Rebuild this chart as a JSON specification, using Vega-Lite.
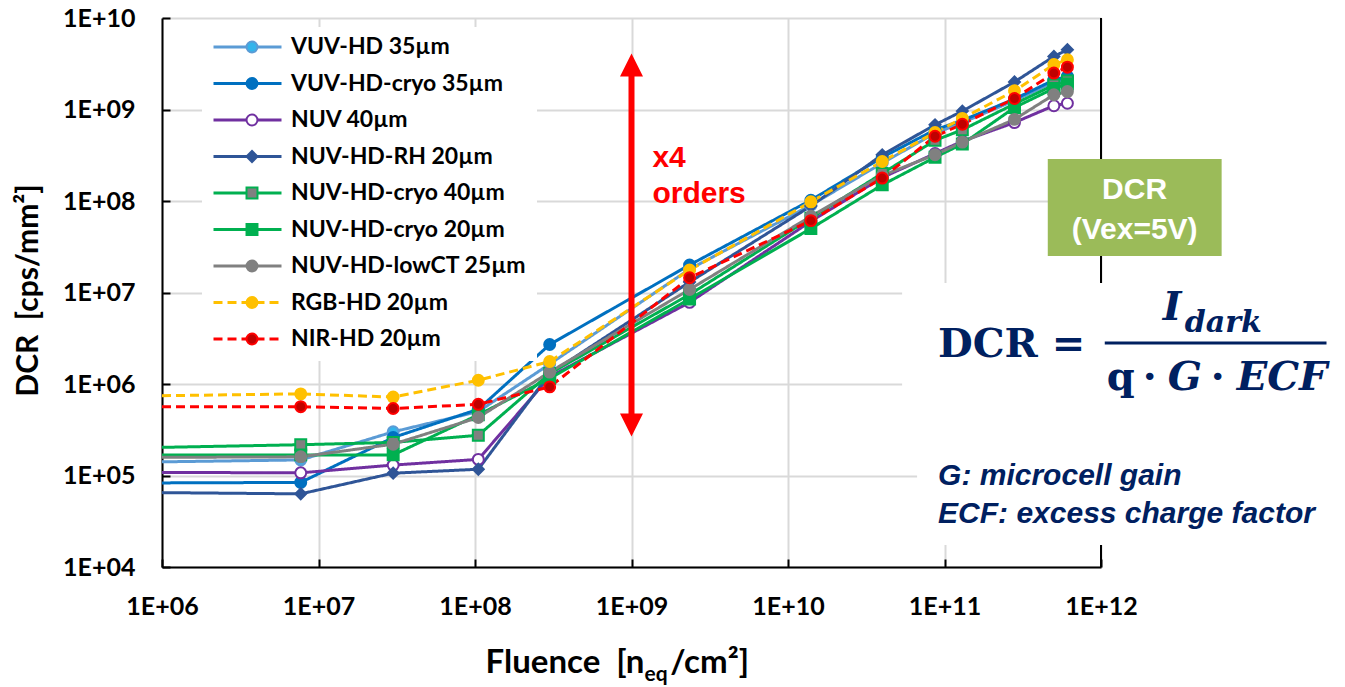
{
  "$schema": "https://vega.github.io/schema/vega-lite/v6.json",
  "width": 939,
  "height": 549,
  "autosize": "none",
  "padding": {"left": 162, "top": 18, "right": 244, "bottom": 120},
  "background": "white",
  "config": {"view": {"stroke": null}},
  "datasets": {
    "dcr": [
      {"series": "VUV-HD 35µm", "fluence": 1e6, "dcr": 1.41e5},
      {"series": "VUV-HD 35µm", "fluence": 7.7e6, "dcr": 1.48e5},
      {"series": "VUV-HD 35µm", "fluence": 3.0e7, "dcr": 3.0e5},
      {"series": "VUV-HD 35µm", "fluence": 1.05e8, "dcr": 5.0e5},
      {"series": "VUV-HD 35µm", "fluence": 3.0e8, "dcr": 1.65e6},
      {"series": "VUV-HD 35µm", "fluence": 2.35e9, "dcr": 1.8e7},
      {"series": "VUV-HD 35µm", "fluence": 1.4e10, "dcr": 9.0e7},
      {"series": "VUV-HD 35µm", "fluence": 4.0e10, "dcr": 2.6e8},
      {"series": "VUV-HD 35µm", "fluence": 8.7e10, "dcr": 5.5e8},
      {"series": "VUV-HD 35µm", "fluence": 1.3e11, "dcr": 7.2e8},
      {"series": "VUV-HD 35µm", "fluence": 2.8e11, "dcr": 1.25e9},
      {"series": "VUV-HD 35µm", "fluence": 5.0e11, "dcr": 2.0e9},
      {"series": "VUV-HD 35µm", "fluence": 6.1e11, "dcr": 2.2e9},
      {"series": "VUV-HD-cryo 35µm", "fluence": 1e6, "dcr": 8.3e4},
      {"series": "VUV-HD-cryo 35µm", "fluence": 7.7e6, "dcr": 8.4e4},
      {"series": "VUV-HD-cryo 35µm", "fluence": 3.0e7, "dcr": 2.6e5},
      {"series": "VUV-HD-cryo 35µm", "fluence": 1.05e8, "dcr": 5.3e5},
      {"series": "VUV-HD-cryo 35µm", "fluence": 3.0e8, "dcr": 2.7e6},
      {"series": "VUV-HD-cryo 35µm", "fluence": 2.35e9, "dcr": 2.0e7},
      {"series": "VUV-HD-cryo 35µm", "fluence": 1.4e10, "dcr": 1.02e8},
      {"series": "VUV-HD-cryo 35µm", "fluence": 4.0e10, "dcr": 3.0e8},
      {"series": "VUV-HD-cryo 35µm", "fluence": 8.7e10, "dcr": 6.0e8},
      {"series": "VUV-HD-cryo 35µm", "fluence": 1.3e11, "dcr": 7.6e8},
      {"series": "VUV-HD-cryo 35µm", "fluence": 2.8e11, "dcr": 1.3e9},
      {"series": "VUV-HD-cryo 35µm", "fluence": 5.0e11, "dcr": 2.1e9},
      {"series": "VUV-HD-cryo 35µm", "fluence": 6.1e11, "dcr": 2.3e9},
      {"series": "NUV 40µm", "fluence": 1e6, "dcr": 1.08e5},
      {"series": "NUV 40µm", "fluence": 7.7e6, "dcr": 1.07e5},
      {"series": "NUV 40µm", "fluence": 3.0e7, "dcr": 1.3e5},
      {"series": "NUV 40µm", "fluence": 1.05e8, "dcr": 1.5e5},
      {"series": "NUV 40µm", "fluence": 3.0e8, "dcr": 1.2e6},
      {"series": "NUV 40µm", "fluence": 2.35e9, "dcr": 7.8e6},
      {"series": "NUV 40µm", "fluence": 1.4e10, "dcr": 6.0e7},
      {"series": "NUV 40µm", "fluence": 4.0e10, "dcr": 1.8e8},
      {"series": "NUV 40µm", "fluence": 8.7e10, "dcr": 3.3e8},
      {"series": "NUV 40µm", "fluence": 1.3e11, "dcr": 4.5e8},
      {"series": "NUV 40µm", "fluence": 2.8e11, "dcr": 7.2e8},
      {"series": "NUV 40µm", "fluence": 5.0e11, "dcr": 1.1e9},
      {"series": "NUV 40µm", "fluence": 6.1e11, "dcr": 1.17e9},
      {"series": "NUV-HD-RH 20µm", "fluence": 1e6, "dcr": 6.5e4},
      {"series": "NUV-HD-RH 20µm", "fluence": 7.7e6, "dcr": 6.3e4},
      {"series": "NUV-HD-RH 20µm", "fluence": 3.0e7, "dcr": 1.06e5},
      {"series": "NUV-HD-RH 20µm", "fluence": 1.05e8, "dcr": 1.17e5},
      {"series": "NUV-HD-RH 20µm", "fluence": 3.0e8, "dcr": 1.3e6},
      {"series": "NUV-HD-RH 20µm", "fluence": 2.35e9, "dcr": 1.3e7},
      {"series": "NUV-HD-RH 20µm", "fluence": 1.4e10, "dcr": 8.8e7},
      {"series": "NUV-HD-RH 20µm", "fluence": 4.0e10, "dcr": 3.2e8},
      {"series": "NUV-HD-RH 20µm", "fluence": 8.7e10, "dcr": 6.8e8},
      {"series": "NUV-HD-RH 20µm", "fluence": 1.3e11, "dcr": 9.6e8},
      {"series": "NUV-HD-RH 20µm", "fluence": 2.8e11, "dcr": 2.0e9},
      {"series": "NUV-HD-RH 20µm", "fluence": 5.0e11, "dcr": 3.8e9},
      {"series": "NUV-HD-RH 20µm", "fluence": 6.1e11, "dcr": 4.5e9},
      {"series": "NUV-HD-cryo 40µm", "fluence": 1e6, "dcr": 2.03e5},
      {"series": "NUV-HD-cryo 40µm", "fluence": 7.7e6, "dcr": 2.17e5},
      {"series": "NUV-HD-cryo 40µm", "fluence": 3.0e7, "dcr": 2.3e5},
      {"series": "NUV-HD-cryo 40µm", "fluence": 1.05e8, "dcr": 2.75e5},
      {"series": "NUV-HD-cryo 40µm", "fluence": 3.0e8, "dcr": 1.3e6},
      {"series": "NUV-HD-cryo 40µm", "fluence": 2.35e9, "dcr": 9.5e6},
      {"series": "NUV-HD-cryo 40µm", "fluence": 1.4e10, "dcr": 6.5e7},
      {"series": "NUV-HD-cryo 40µm", "fluence": 4.0e10, "dcr": 2.0e8},
      {"series": "NUV-HD-cryo 40µm", "fluence": 8.7e10, "dcr": 4.6e8},
      {"series": "NUV-HD-cryo 40µm", "fluence": 1.3e11, "dcr": 6.0e8},
      {"series": "NUV-HD-cryo 40µm", "fluence": 2.8e11, "dcr": 1.15e9},
      {"series": "NUV-HD-cryo 40µm", "fluence": 5.0e11, "dcr": 1.85e9},
      {"series": "NUV-HD-cryo 40µm", "fluence": 6.1e11, "dcr": 2.05e9},
      {"series": "NUV-HD-cryo 20µm", "fluence": 1e6, "dcr": 1.68e5},
      {"series": "NUV-HD-cryo 20µm", "fluence": 7.7e6, "dcr": 1.68e5},
      {"series": "NUV-HD-cryo 20µm", "fluence": 3.0e7, "dcr": 1.68e5},
      {"series": "NUV-HD-cryo 20µm", "fluence": 1.05e8, "dcr": 4.6e5},
      {"series": "NUV-HD-cryo 20µm", "fluence": 3.0e8, "dcr": 1.15e6},
      {"series": "NUV-HD-cryo 20µm", "fluence": 2.35e9, "dcr": 8.5e6},
      {"series": "NUV-HD-cryo 20µm", "fluence": 1.4e10, "dcr": 5.0e7},
      {"series": "NUV-HD-cryo 20µm", "fluence": 4.0e10, "dcr": 1.5e8},
      {"series": "NUV-HD-cryo 20µm", "fluence": 8.7e10, "dcr": 3.0e8},
      {"series": "NUV-HD-cryo 20µm", "fluence": 1.3e11, "dcr": 4.2e8},
      {"series": "NUV-HD-cryo 20µm", "fluence": 2.8e11, "dcr": 1.05e9},
      {"series": "NUV-HD-cryo 20µm", "fluence": 5.0e11, "dcr": 1.7e9},
      {"series": "NUV-HD-cryo 20µm", "fluence": 6.1e11, "dcr": 1.9e9},
      {"series": "NUV-HD-lowCT 25µm", "fluence": 1e6, "dcr": 1.58e5},
      {"series": "NUV-HD-lowCT 25µm", "fluence": 7.7e6, "dcr": 1.6e5},
      {"series": "NUV-HD-lowCT 25µm", "fluence": 3.0e7, "dcr": 2.2e5},
      {"series": "NUV-HD-lowCT 25µm", "fluence": 1.05e8, "dcr": 4.3e5},
      {"series": "NUV-HD-lowCT 25µm", "fluence": 3.0e8, "dcr": 1.35e6},
      {"series": "NUV-HD-lowCT 25µm", "fluence": 2.35e9, "dcr": 1.08e7},
      {"series": "NUV-HD-lowCT 25µm", "fluence": 1.4e10, "dcr": 6.8e7},
      {"series": "NUV-HD-lowCT 25µm", "fluence": 4.0e10, "dcr": 1.9e8},
      {"series": "NUV-HD-lowCT 25µm", "fluence": 8.7e10, "dcr": 3.2e8},
      {"series": "NUV-HD-lowCT 25µm", "fluence": 1.3e11, "dcr": 4.4e8},
      {"series": "NUV-HD-lowCT 25µm", "fluence": 2.8e11, "dcr": 7.8e8},
      {"series": "NUV-HD-lowCT 25µm", "fluence": 5.0e11, "dcr": 1.45e9},
      {"series": "NUV-HD-lowCT 25µm", "fluence": 6.1e11, "dcr": 1.57e9},
      {"series": "RGB-HD 20µm", "fluence": 1e6, "dcr": 7.45e5},
      {"series": "RGB-HD 20µm", "fluence": 7.7e6, "dcr": 7.8e5},
      {"series": "RGB-HD 20µm", "fluence": 3.0e7, "dcr": 7.2e5},
      {"series": "RGB-HD 20µm", "fluence": 1.05e8, "dcr": 1.1e6},
      {"series": "RGB-HD 20µm", "fluence": 3.0e8, "dcr": 1.76e6},
      {"series": "RGB-HD 20µm", "fluence": 2.35e9, "dcr": 1.76e7},
      {"series": "RGB-HD 20µm", "fluence": 1.4e10, "dcr": 9.8e7},
      {"series": "RGB-HD 20µm", "fluence": 4.0e10, "dcr": 2.7e8},
      {"series": "RGB-HD 20µm", "fluence": 8.7e10, "dcr": 5.6e8},
      {"series": "RGB-HD 20µm", "fluence": 1.3e11, "dcr": 8.0e8},
      {"series": "RGB-HD 20µm", "fluence": 2.8e11, "dcr": 1.6e9},
      {"series": "RGB-HD 20µm", "fluence": 5.0e11, "dcr": 3.1e9},
      {"series": "RGB-HD 20µm", "fluence": 6.1e11, "dcr": 3.5e9},
      {"series": "NIR-HD 20µm", "fluence": 1e6, "dcr": 5.65e5},
      {"series": "NIR-HD 20µm", "fluence": 7.7e6, "dcr": 5.65e5},
      {"series": "NIR-HD 20µm", "fluence": 3.0e7, "dcr": 5.4e5},
      {"series": "NIR-HD 20µm", "fluence": 1.05e8, "dcr": 6.0e5},
      {"series": "NIR-HD 20µm", "fluence": 3.0e8, "dcr": 9.3e5},
      {"series": "NIR-HD 20µm", "fluence": 2.35e9, "dcr": 1.45e7},
      {"series": "NIR-HD 20µm", "fluence": 1.4e10, "dcr": 6.1e7},
      {"series": "NIR-HD 20µm", "fluence": 4.0e10, "dcr": 1.78e8},
      {"series": "NIR-HD 20µm", "fluence": 8.7e10, "dcr": 5.1e8},
      {"series": "NIR-HD 20µm", "fluence": 1.3e11, "dcr": 6.9e8},
      {"series": "NIR-HD 20µm", "fluence": 2.8e11, "dcr": 1.32e9},
      {"series": "NIR-HD 20µm", "fluence": 5.0e11, "dcr": 2.5e9},
      {"series": "NIR-HD 20µm", "fluence": 6.1e11, "dcr": 2.9e9}
    ]
  },
  "encoding": {
    "x": {
      "field": "fluence", "type": "quantitative",
      "scale": {"type": "log", "domain": [1e6, 1e12], "nice": false},
      "axis": {
        "values": [1e6, 1e7, 1e8, 1e9, 1e10, 1e11, 1e12],
        "labelExpr": "'1E+' + (datum.value < 1e10 ? '0' : '') + format(log(datum.value)/LN10, '.0f')",
        "title": null, "grid": true, "gridColor": "#D9D9D9", "gridWidth": 2,
        "domainColor": "black", "domainWidth": 2, "tickColor": "black", "tickWidth": 2, "tickSize": -8,
        "labelPadding": 35, "labelFont": "Lato", "labelFontSize": 25, "labelFontWeight": "bold",
        "labelColor": "black", "labelFlush": false, "labelOverlap": false
      }
    },
    "y": {
      "field": "dcr", "type": "quantitative",
      "scale": {"type": "log", "domain": [1e4, 1e10], "nice": false},
      "axis": {
        "values": [1e4, 1e5, 1e6, 1e7, 1e8, 1e9, 1e10],
        "labelExpr": "'1E+' + (datum.value < 1e10 ? '0' : '') + format(log(datum.value)/LN10, '.0f')",
        "title": "DCR \u00a0[cps/mm²]", "titleFont": "Lato", "titleFontSize": 30, "titleFontWeight": "bold",
        "titleColor": "black", "titleX": -134, "titleY": 272, "titleAngle": -90, "titleAlign": "center", "titleBaseline": "middle",
        "grid": true, "gridColor": "#D9D9D9", "gridWidth": 2,
        "domainColor": "black", "domainWidth": 2, "tickColor": "black", "tickWidth": 2, "tickSize": -8,
        "labelPadding": 35, "labelFont": "Lato", "labelFontSize": 25, "labelFontWeight": "bold",
        "labelColor": "black", "labelFlush": false, "labelOverlap": false
      }
    }
  },
  "resolve": {
    "scale": {"stroke": "independent", "fill": "independent", "shape": "independent", "strokeDash": "independent"},
    "legend": {"stroke": "independent", "fill": "independent", "shape": "independent", "strokeDash": "independent"}
  },
  "layer": [
    {
      "data": {"values": [{"fluence": 1e12, "dcr": 1e4, "dcr2": 1e10}]},
      "mark": {"type": "rule", "color": "black", "strokeWidth": 2},
      "encoding": {"y2": {"field": "dcr2"}}
    },
    {
      "data": {"name": "dcr"},
      "mark": {"type": "line", "strokeWidth": 3},
      "encoding": {
        "stroke": {
          "field": "series", "type": "nominal",
          "scale": {
            "domain": ["VUV-HD 35µm", "VUV-HD-cryo 35µm", "NUV 40µm", "NUV-HD-RH 20µm", "NUV-HD-cryo 40µm", "NUV-HD-cryo 20µm", "NUV-HD-lowCT 25µm", "RGB-HD 20µm", "NIR-HD 20µm"],
            "range": ["#5B9BD5", "#0070C0", "#7030A0", "#2F5597", "#00B050", "#00B050", "#808080", "#FFC000", "#FF0000"]
          },
          "legend": {
            "orient": "none", "legendX": 40, "legendY": 9, "title": null, "padding": 10, "fillColor": "white",
            "symbolType": "stroke", "symbolSize": 4624, "symbolStrokeWidth": 3, "clipHeight": 20, "rowPadding": 13.5,
            "labelFont": "Lato", "labelFontSize": 23, "labelFontWeight": "bold", "labelColor": "black", "labelOffset": 8, "labelLimit": 400
          }
        },
        "strokeDash": {
          "field": "series", "type": "nominal",
          "scale": {
            "domain": ["VUV-HD 35µm", "VUV-HD-cryo 35µm", "NUV 40µm", "NUV-HD-RH 20µm", "NUV-HD-cryo 40µm", "NUV-HD-cryo 20µm", "NUV-HD-lowCT 25µm", "RGB-HD 20µm", "NIR-HD 20µm"],
            "range": [[1, 0], [1, 0], [1, 0], [1, 0], [1, 0], [1, 0], [1, 0], [9, 5], [9, 5]]
          },
          "legend": {
            "orient": "none", "legendX": 40, "legendY": 9, "title": null, "padding": 10, "fillColor": "white",
            "symbolType": "stroke", "symbolSize": 4624, "symbolStrokeWidth": 3, "clipHeight": 20, "rowPadding": 13.5,
            "labelFont": "Lato", "labelFontSize": 23, "labelFontWeight": "bold", "labelColor": "black", "labelOffset": 8, "labelLimit": 400
          }
        }
      }
    },
    {
      "data": {"name": "dcr"},
      "transform": [{"filter": "datum.fluence > 1e6"}],
      "mark": {"type": "point", "filled": true, "size": 120, "strokeWidth": 2, "opacity": 1},
      "encoding": {
        "stroke": {
          "field": "series", "type": "nominal",
          "scale": {
            "domain": ["VUV-HD 35µm", "VUV-HD-cryo 35µm", "NUV 40µm", "NUV-HD-RH 20µm", "NUV-HD-cryo 40µm", "NUV-HD-cryo 20µm", "NUV-HD-lowCT 25µm", "RGB-HD 20µm", "NIR-HD 20µm"],
            "range": ["#5B9BD5", "#0070C0", "#7030A0", "#2F5597", "#00B050", "#00B050", "#808080", "#FFC000", "#FF0000"]
          },
          "legend": {
            "orient": "none", "legendX": 78.5, "legendY": 19, "title": null, "padding": 0,
            "symbolSize": 120, "symbolStrokeWidth": 2, "clipHeight": 20, "rowPadding": 13.5,
            "labelFont": "Lato", "labelFontSize": 23, "labelFontWeight": "bold", "labelOpacity": 0, "labelExpr": "''", "labelOffset": 8
          }
        },
        "fill": {
          "field": "series", "type": "nominal",
          "scale": {
            "domain": ["VUV-HD 35µm", "VUV-HD-cryo 35µm", "NUV 40µm", "NUV-HD-RH 20µm", "NUV-HD-cryo 40µm", "NUV-HD-cryo 20µm", "NUV-HD-lowCT 25µm", "RGB-HD 20µm", "NIR-HD 20µm"],
            "range": ["#33B4EB", "#0070C0", "#FFFFFF", "#2F5597", "#808080", "#00B050", "#808080", "#FFC000", "#C00000"]
          },
          "legend": {
            "orient": "none", "legendX": 78.5, "legendY": 19, "title": null, "padding": 0,
            "symbolSize": 120, "symbolStrokeWidth": 2, "clipHeight": 20, "rowPadding": 13.5,
            "labelFont": "Lato", "labelFontSize": 23, "labelFontWeight": "bold", "labelOpacity": 0, "labelExpr": "''", "labelOffset": 8
          }
        },
        "shape": {
          "field": "series", "type": "nominal",
          "scale": {
            "domain": ["VUV-HD 35µm", "VUV-HD-cryo 35µm", "NUV 40µm", "NUV-HD-RH 20µm", "NUV-HD-cryo 40µm", "NUV-HD-cryo 20µm", "NUV-HD-lowCT 25µm", "RGB-HD 20µm", "NIR-HD 20µm"],
            "range": ["circle", "circle", "circle", "diamond", "square", "square", "circle", "circle", "circle"]
          },
          "legend": {
            "orient": "none", "legendX": 78.5, "legendY": 19, "title": null, "padding": 0,
            "symbolSize": 120, "symbolStrokeWidth": 2, "clipHeight": 20, "rowPadding": 13.5,
            "labelFont": "Lato", "labelFontSize": 23, "labelFontWeight": "bold", "labelOpacity": 0, "labelExpr": "''", "labelOffset": 8
          }
        }
      }
    },
    {
      "data": {"values": [{"fluence": 1e9, "dcr": 3.57e5, "dcr2": 3.06e9}]},
      "mark": {"type": "rule", "color": "#FF0000", "strokeWidth": 6},
      "encoding": {"y2": {"field": "dcr2"}}
    },
    {
      "data": {"values": [{"fluence": 1e9, "dcr": 3.06e9}]},
      "mark": {"type": "point", "shape": "M0,-1L1,1L-1,1Z", "size": 529, "filled": true, "color": "#FF0000", "strokeWidth": 0, "opacity": 1}
    },
    {
      "data": {"values": [{"fluence": 1e9, "dcr": 3.57e5}]},
      "mark": {"type": "point", "shape": "M0,1L1,-1L-1,-1Z", "size": 529, "filled": true, "color": "#FF0000", "strokeWidth": 0, "opacity": 1}
    },
    {
      "data": {"values": [{"fluence": 1.36e9, "dcr": 2.35e8, "text": "x4"}, {"fluence": 1.36e9, "dcr": 9.5e7, "text": "orders"}]},
      "mark": {"type": "text", "font": "Liberation Sans", "fontSize": 30, "fontWeight": "bold", "color": "#FF0000", "align": "left", "baseline": "alphabetic"},
      "encoding": {"text": {"field": "text"}}
    },
    {
      "data": {"values": [
        {"fluence": 5.36e10, "fluence2": 1e15, "dcr": 2.44e5, "dcr2": 1.27e7},
        {"fluence": 6.68e10, "fluence2": 1e15, "dcr": 1.74e4, "dcr2": 2.44e5}
      ]},
      "mark": {"type": "rect", "color": "white", "opacity": 1},
      "encoding": {"x2": {"field": "fluence2"}, "y2": {"field": "dcr2"}}
    },
    {
      "data": {"values": [{"fluence": 4.57e11, "fluence2": 5.9e12, "dcr": 2.51e7, "dcr2": 2.88e8}]},
      "mark": {"type": "rect", "color": "#9BBB59", "opacity": 1},
      "encoding": {"x2": {"field": "fluence2"}, "y2": {"field": "dcr2"}}
    },
    {
      "data": {"values": [{"fluence": 1.64e12, "dcr": 1.32e8, "text": "DCR"}, {"fluence": 1.64e12, "dcr": 4.82e7, "text": "(Vex=5V)"}]},
      "mark": {"type": "text", "font": "Liberation Sans", "fontSize": 30, "fontWeight": "bold", "color": "white", "align": "center", "baseline": "middle"},
      "encoding": {"text": {"field": "text"}}
    },
    {
      "data": {"values": [{"fluence": 9.08e10, "dcr": 1.97e6, "text": "DCR ="}, {"fluence": 1.09e12, "dcr": 8.6e5, "text": "q"}]},
      "mark": {"type": "text", "font": "DejaVu Serif", "fontSize": 40, "fontWeight": "bold", "color": "#002060", "align": "left", "baseline": "alphabetic"},
      "encoding": {"text": {"field": "text"}}
    },
    {
      "data": {"values": [{"fluence": 2.05e12, "dcr": 8.6e5, "text": "·"}, {"fluence": 5.56e12, "dcr": 8.6e5, "text": "·"}]},
      "mark": {"type": "text", "font": "DejaVu Serif", "fontSize": 40, "fontWeight": "bold", "color": "#002060", "align": "center", "baseline": "alphabetic"},
      "encoding": {"text": {"field": "text"}}
    },
    {
      "data": {"values": [{"fluence": 2.67e12, "dcr": 8.6e5, "text": "G"}, {"fluence": 7.36e12, "dcr": 8.6e5, "text": "ECF"}, {"fluence": 2.48e12, "dcr": 5.0e6, "text": "I"}]},
      "mark": {"type": "text", "font": "DejaVu Serif", "fontSize": 40, "fontWeight": "bold", "fontStyle": "italic", "color": "#002060", "align": "left", "baseline": "alphabetic"},
      "encoding": {"text": {"field": "text"}}
    },
    {
      "data": {"values": [{"fluence": 3.43e12, "dcr": 3.73e6, "text": "dark"}]},
      "mark": {"type": "text", "font": "DejaVu Serif", "fontSize": 30, "fontWeight": "bold", "fontStyle": "italic", "color": "#002060", "align": "left", "baseline": "alphabetic"},
      "encoding": {"text": {"field": "text"}}
    },
    {
      "data": {"values": [{"fluence": 1.057e12, "fluence2": 2.76e13, "dcr": 2.81e6}]},
      "mark": {"type": "rule", "color": "#002060", "strokeWidth": 3},
      "encoding": {"x2": {"field": "fluence2"}}
    },
    {
      "data": {"values": [{"fluence": 9.1e10, "dcr": 7.87e4, "text": "G: microcell gain"}, {"fluence": 9.1e10, "dcr": 3.03e4, "text": "ECF: excess charge factor"}]},
      "mark": {"type": "text", "font": "Liberation Sans", "fontSize": 30, "fontWeight": "bold", "fontStyle": "italic", "color": "#002060", "align": "left", "baseline": "alphabetic"},
      "encoding": {"text": {"field": "text"}}
    },
    {
      "data": {"values": [{"fluence": 1.21e9, "dcr": 695, "text": "Fluence \u00a0[n"}]},
      "mark": {"type": "text", "font": "Lato", "fontSize": 33, "fontWeight": "bold", "color": "black", "align": "right", "baseline": "alphabetic"},
      "encoding": {"text": {"field": "text"}}
    },
    {
      "data": {"values": [{"fluence": 1.21e9, "dcr": 567, "text": "eq"}]},
      "mark": {"type": "text", "font": "Lato", "fontSize": 21, "fontWeight": "bold", "color": "black", "align": "left", "baseline": "alphabetic"},
      "encoding": {"text": {"field": "text"}}
    },
    {
      "data": {"values": [{"fluence": 1.77e9, "dcr": 695, "text": "/cm²]"}]},
      "mark": {"type": "text", "font": "Lato", "fontSize": 33, "fontWeight": "bold", "color": "black", "align": "left", "baseline": "alphabetic"},
      "encoding": {"text": {"field": "text"}}
    }
  ]
}
